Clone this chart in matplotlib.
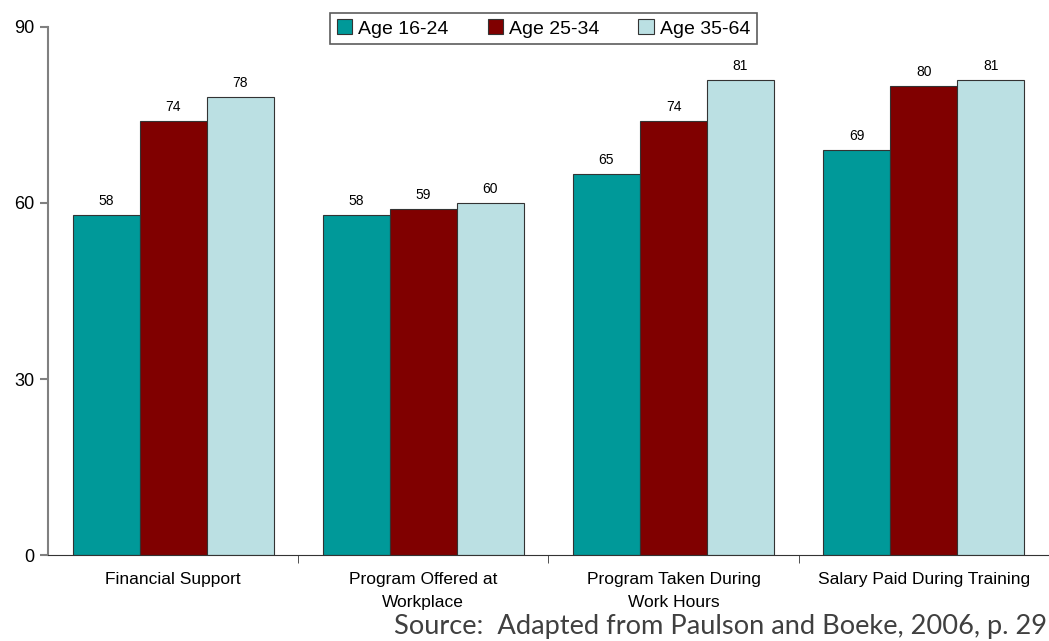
import numpy as np
import matplotlib.pyplot as plt

categories = ['Financial Support', 'Program Offered at\nWorkplace',
              'Program Taken During\nWork Hours', 'Salary Paid During Training']
series = ['Age 16-24', 'Age 25-34', 'Age 35-64']
age_16_24 = [58, 58, 65, 69]
age_25_34 = [74, 59, 74, 80]
age_35_64 = [78, 60, 81, 81]
colors = ['#009999', '#800000', '#bbe0e3']

plt.rcParams['font.family'] = ['Liberation Sans', 'DejaVu Sans']

fig = plt.figure(figsize=(10.49, 6.41), dpi=100)
ax = fig.add_axes([0.0458, 0.134, 0.954, 0.824])

x = np.arange(len(categories))
w = 0.268
for i, (vals, c) in enumerate(zip([age_16_24, age_25_34, age_35_64], colors)):
    pos = x + (i - 1) * w
    ax.bar(pos, vals, width=w, color=c, edgecolor='#333333', linewidth=0.8,
           label=series[i], zorder=2)
    for p, v in zip(pos, vals):
        ax.text(p, v + 1.2, str(v), ha='center', va='bottom', fontsize=10)

ax.set_xlim(-0.5, len(categories) - 0.5)
ax.set_ylim(0, 90)
ax.set_yticks([0, 30, 60, 90])
ax.tick_params(axis='y', labelsize=13, length=6, color='#808080', width=1.5)
ax.set_xticks(x)
ax.set_xticklabels(categories, fontsize=12.5, linespacing=1.7)
ax.tick_params(axis='x', length=0, pad=12)
ax.set_xticks(np.arange(0.5, len(categories) - 0.5, 1), minor=True)
ax.tick_params(axis='x', which='minor', length=6, color='#333333')

for s in ['top', 'right']:
    ax.spines[s].set_visible(False)
ax.spines['left'].set_color('#808080')
ax.spines['left'].set_linewidth(1.5)
ax.spines['bottom'].set_color('#333333')

leg = ax.legend(loc='upper center', bbox_to_anchor=(0.495, 1.027), ncol=3,
                fontsize=14, frameon=True, fancybox=False, edgecolor='#333333',
                handlelength=0.8, handleheight=0.8, handletextpad=0.3,
                columnspacing=2.0, borderpad=0.35, borderaxespad=0)
leg.get_frame().set_linewidth(1.2)

fig.text(0.998, 0.022, 'Source:  Adapted from Paulson and Boeke, 2006, p. 29',
         ha='right', va='center', fontsize=19.6, color='#404040',
         family=['Lato', 'DejaVu Sans'])

fig.savefig('out.png', dpi=100)
